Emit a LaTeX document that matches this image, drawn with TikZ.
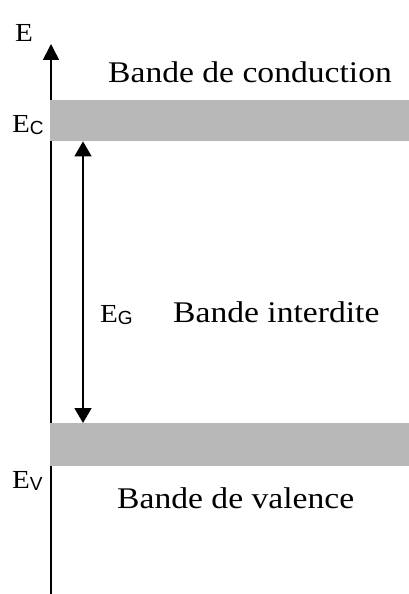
\documentclass[tikz,border=0pt]{standalone}
\usepackage{fontspec}
\setmainfont[FakeStretch=1.12]{Liberation Serif}
\newfontfamily\subfont{Liberation Sans}
\usetikzlibrary{positioning, arrows.meta}

\tikzset{
  band/.style={fill=black!28, minimum width=359pt, minimum height=41pt, inner sep=0pt, anchor=north west},
  lbl/.style={font=\fontsize{30}{36}\selectfont, inner sep=0pt, anchor=base west},
  elbl/.style={font=\fontsize{26}{30}\selectfont, inner sep=0pt, anchor=base west},
  axe/.style={line width=1.6pt},
}
\newcommand{\sbs}[1]{\raisebox{-2.5pt}{\subfont\fontsize{19}{22}\selectfont #1}}

\begin{document}
\begin{tikzpicture}[x=1pt, y=-1pt]
    \useasboundingbox (0,0) rectangle (409,594);
    % 軸
    \coordinate (o) at (51,594);
    \coordinate (top) at (51,44);
    \draw[axe, -{Triangle[length=16pt,width=16pt]}] (o) -- (top);
    % バンド
    \node[band] (cb) at (50,100) {};
    \node[band, minimum height=43pt] (vb) at (50,423) {};
    % ギャップ
    \coordinate (g) at (83,0);
    \draw[axe, {Triangle[length=15pt,width=17pt]}-{Triangle[length=15pt,width=17pt]}] (cb.south -| g) -- (vb.north -| g);
    % ラベル
    \node[elbl] (e) at (15,42) {E};
    \node[lbl] (cond) at (108,82) {Bande de conduction};
    \node[elbl] (ec) at (12,132) {E\sbs{C}};
    \node[elbl] (eg) at (100,322) {E\sbs{G}};
    \node[lbl] (gap) at (173,322) {Bande interdite};
    \node[elbl] (ev) at (12,488) {E\sbs{V}};
    \node[lbl] (val) at (117,508) {Bande de valence};
\end{tikzpicture}
\end{document}
